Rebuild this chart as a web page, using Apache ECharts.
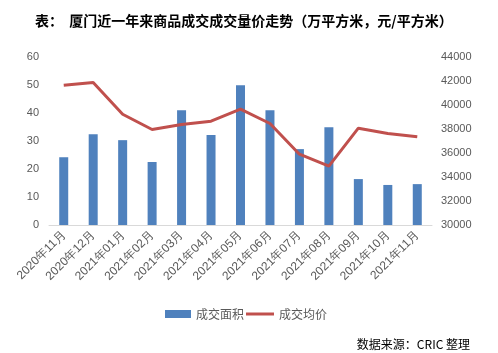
<!DOCTYPE html>
<html><head><meta charset="utf-8">
<script src="https://cdn.jsdelivr.net/npm/echarts@6/dist/echarts.min.js"></script>
<style>html,body{margin:0;padding:0;background:#fff}#c{width:498px;height:353px}</style>
</head><body><div id="c"></div>
<script>
const categories = ["2020年11月","2020年12月","2021年01月","2021年02月","2021年03月","2021年04月","2021年05月","2021年06月","2021年07月","2021年08月","2021年09月","2021年10月","2021年11月"];
const areaValues = [24.2,32.4,30.3,22.5,41.0,32.1,49.9,41.0,27.1,34.9,16.4,14.3,14.6];
const priceValues = [41650,41870,39230,37960,38370,38650,39650,38460,35900,34900,38070,37630,37350];
const leftTicks = {min:0,max:60,interval:10};
const rightTicks = {min:30000,max:44000,interval:2000};
const font = '"Liberation Sans", Arial, sans-serif';
const cjk = '"Noto Sans CJK SC", sans-serif';
const chart = echarts.init(document.getElementById('c'));
chart.setOption({
  animation:false,
  title:[{text:'表：  厦门近一年来商品成交成交量价走势（万平方米，元/平方米）',left:30,top:9,
    textStyle:{fontSize:14,fontWeight:'bold',color:'#000',fontFamily:cjk}},
    {text:'数据来源：CRIC 整理',right:23,top:333,textStyle:{fontSize:12,fontWeight:'normal',color:'#000',fontFamily:cjk}}],
  legend:[{left:160,top:303,itemGap:4,itemWidth:26,itemHeight:8,
    textStyle:{fontSize:12,color:'#595959',fontFamily:cjk},
    data:[{name:'成交面积',icon:'rect'}]},
    {left:241,top:303,itemGap:4,itemWidth:28,itemHeight:3,
    textStyle:{fontSize:12,color:'#595959',fontFamily:cjk},
    data:[{name:'成交均价',icon:'rect'}]}],
  grid:{left:49,right:66,top:57,bottom:128},
  xAxis:{type:'category',data:categories,
    axisLine:{lineStyle:{color:'#D9D9D9'}},axisTick:{show:false},
    axisLabel:{rotate:45,fontSize:12,color:'#595959',fontFamily:font,interval:0,margin:8}},
  yAxis:[{type:'value',min:leftTicks.min,max:leftTicks.max,interval:leftTicks.interval,
    splitLine:{show:false},axisLine:{show:false},axisTick:{show:false},
    axisLabel:{fontSize:11,color:'#595959',fontFamily:font,margin:10}},
    {type:'value',min:rightTicks.min,max:rightTicks.max,interval:rightTicks.interval,
    splitLine:{show:false},axisLine:{show:false},axisTick:{show:false},
    axisLabel:{fontSize:11,color:'#595959',fontFamily:font,margin:9,formatter:v=>String(v)}}],
  series:[{name:'成交面积',type:'bar',data:areaValues,barWidth:9,itemStyle:{color:'#4F81BD'}},
    {name:'成交均价',type:'line',yAxisIndex:1,data:priceValues,symbol:'none',
     lineStyle:{color:'#C0504D',width:3},itemStyle:{color:'#C0504D'}}]
});
</script></body></html>
